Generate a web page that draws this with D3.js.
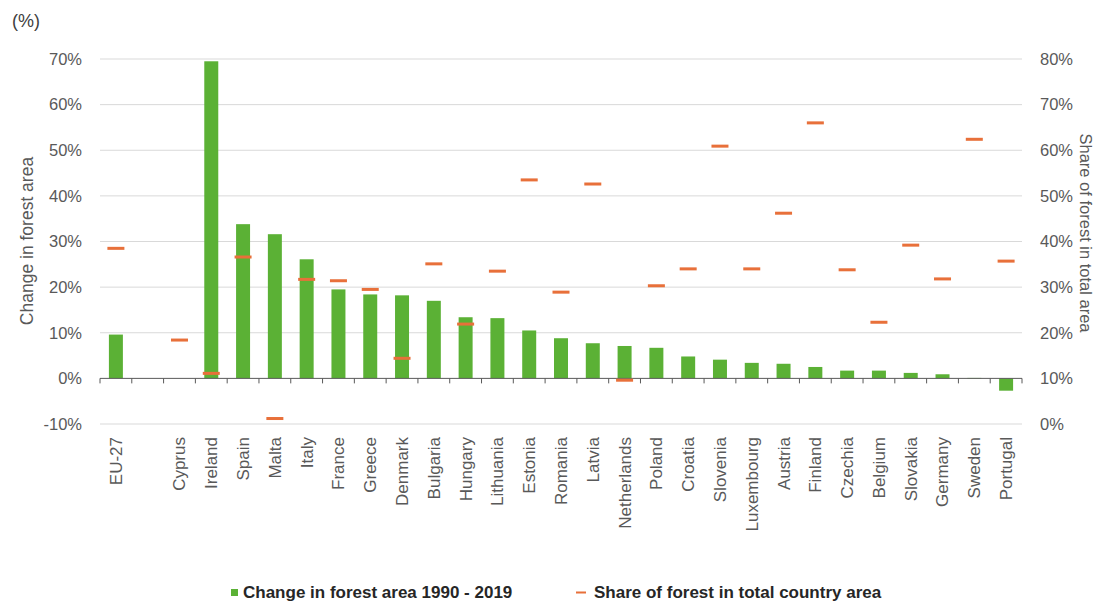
<!DOCTYPE html>
<html>
<head>
<meta charset="utf-8">
<script src="https://cdn.jsdelivr.net/npm/d3@7"></script>
<style>
  html, body { margin: 0; padding: 0; background: #ffffff; }
  svg { display: block; font-family: "Liberation Sans", Arial, sans-serif; }
</style>
</head>
<body>
<svg id="chart" width="1107" height="608"></svg>
<script>
// Countries, ordered by change in forest area (EU-27 first, then a spacer slot)
const categories = ["EU-27", "", "Cyprus", "Ireland", "Spain", "Malta", "Italy", "France", "Greece",
  "Denmark", "Bulgaria", "Hungary", "Lithuania", "Estonia", "Romania", "Latvia", "Netherlands",
  "Poland", "Croatia", "Slovenia", "Luxembourg", "Austria", "Finland", "Czechia", "Belgium",
  "Slovakia", "Germany", "Sweden", "Portugal"];

// Change in forest area 1990 - 2019 (%), left axis
const changeValues = [9.6, null, 0.0, 69.5, 33.8, 31.6, 26.1, 19.5, 18.4, 18.2, 17.0, 13.4, 13.2,
  10.5, 8.8, 7.7, 7.1, 6.7, 4.8, 4.1, 3.4, 3.2, 2.5, 1.7, 1.7, 1.2, 0.9, 0.1, -2.7];

// Share of forest in total country area (%), right axis
const shareValues = [38.5, null, 18.4, 11.1, 36.6, 1.2, 31.7, 31.4, 29.5, 14.4, 35.1, 21.9, 33.5,
  53.5, 28.9, 52.6, 9.6, 30.3, 34.0, 60.9, 34.0, 46.2, 66.0, 33.8, 22.3, 39.2, 31.8, 62.4, 35.7];

const leftTicks = [-10, 0, 10, 20, 30, 40, 50, 60, 70];
const rightTicks = [0, 10, 20, 30, 40, 50, 60, 70, 80];

const legendLabels = ["Change in forest area 1990 - 2019", "Share of forest in total country area"];

const GREEN = "#5bb135";
const ORANGE = "#e8703a";
const TEXT = "#595959";

const svg = d3.select("#chart");
const plot = { left: 100, right: 1022, top: 59, bottom: 424 };

const x = d3.scaleBand().domain(categories.map((c, i) => i)).range([plot.left, plot.right]);
const yL = d3.scaleLinear().domain([-10, 70]).range([plot.bottom, plot.top]);
const yR = d3.scaleLinear().domain([0, 80]).range([plot.bottom, plot.top]);
const bw = x.bandwidth();

// Gridlines
svg.append("g").selectAll("line")
  .data(leftTicks.filter(t => t !== 0))
  .join("line")
  .attr("x1", plot.left).attr("x2", plot.right)
  .attr("y1", d => yL(d)).attr("y2", d => yL(d))
  .attr("stroke", "#d9d9d9").attr("stroke-width", 1);

// Left axis labels
const leftAxis = d3.axisLeft(yL).tickValues(leftTicks).tickSize(0).tickPadding(18)
  .tickFormat(d => d + "%");
svg.append("g").attr("transform", `translate(${plot.left},0)`).call(leftAxis)
  .call(g => g.select(".domain").remove())
  .selectAll("text").attr("font-size", 16.5).attr("fill", TEXT)
  .attr("font-family", "Liberation Sans, Arial, sans-serif");

// Right axis labels
const rightAxis = d3.axisRight(yR).tickValues(rightTicks).tickSize(0).tickPadding(18)
  .tickFormat(d => d + "%");
svg.append("g").attr("transform", `translate(${plot.right},0)`).call(rightAxis)
  .call(g => g.select(".domain").remove())
  .selectAll("text").attr("font-size", 16.5).attr("fill", TEXT)
  .attr("font-family", "Liberation Sans, Arial, sans-serif");

// Bars
svg.append("g").selectAll("rect")
  .data(changeValues.map((v, i) => ({ v, i })).filter(d => d.v !== null))
  .join("rect")
  .attr("x", d => x(d.i) + bw * 0.28)
  .attr("width", bw * 0.44)
  .attr("y", d => Math.min(yL(d.v), yL(0)))
  .attr("height", d => Math.abs(yL(d.v) - yL(0)))
  .attr("fill", GREEN);

// Category axis along 0%
const zeroY = yL(0);
svg.append("line")
  .attr("x1", plot.left).attr("x2", plot.right)
  .attr("y1", zeroY).attr("y2", zeroY)
  .attr("stroke", "#595959").attr("stroke-width", 1);
const boundaries = d3.range(categories.length + 1).map(i => plot.left + i * x.step());
svg.append("g").selectAll("line")
  .data(boundaries)
  .join("line")
  .attr("x1", d => d).attr("x2", d => d)
  .attr("y1", zeroY).attr("y2", zeroY + 5)
  .attr("stroke", "#595959").attr("stroke-width", 1);

// Share markers
svg.append("g").selectAll("rect")
  .data(shareValues.map((v, i) => ({ v, i })).filter(d => d.v !== null))
  .join("rect")
  .attr("x", d => x(d.i) + bw / 2 - 8.5)
  .attr("width", 17)
  .attr("y", d => yR(d.v) - 1.5)
  .attr("height", 3)
  .attr("fill", ORANGE);

// Category labels
svg.append("g").selectAll("text")
  .data(categories.map((c, i) => ({ c, i })).filter(d => d.c !== ""))
  .join("text")
  .attr("transform", d => `translate(${x(d.i) + bw / 2},437) rotate(-90)`)
  .attr("text-anchor", "end")
  .attr("dy", "0.35em")
  .attr("font-size", 17)
  .attr("fill", TEXT)
  .text(d => d.c);

// Unit label
svg.append("text").attr("x", 12).attr("y", 27)
  .attr("font-size", 18).attr("fill", "#404040").text("(%)");

// Axis titles
svg.append("text")
  .attr("transform", "translate(27,241) rotate(-90)")
  .attr("text-anchor", "middle").attr("dy", "0.35em")
  .attr("font-size", 17.5).attr("fill", TEXT)
  .text("Change in forest area");
svg.append("text")
  .attr("transform", "translate(1086,233) rotate(90)")
  .attr("text-anchor", "middle").attr("dy", "0.35em")
  .attr("font-size", 16.5).attr("fill", TEXT)
  .text("Share of forest in total area");

// Legend
const legend = svg.append("g").attr("font-weight", "bold").attr("font-size", 17).attr("fill", "#262626");
legend.append("rect").attr("x", 231).attr("y", 589).attr("width", 7).attr("height", 7).attr("fill", GREEN);
legend.append("text").attr("x", 243).attr("y", 598).text(legendLabels[0]);
legend.append("rect").attr("x", 576).attr("y", 591.5).attr("width", 10).attr("height", 2).attr("fill", ORANGE);
legend.append("text").attr("x", 594).attr("y", 598).text(legendLabels[1]);
</script>
</body>
</html>
